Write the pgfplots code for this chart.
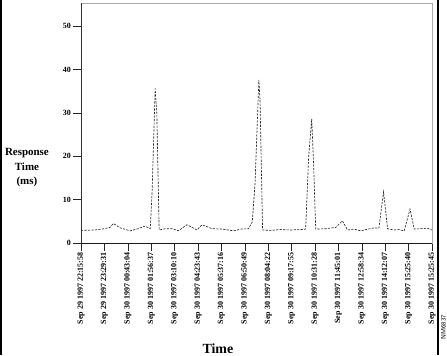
\documentclass[border=0pt]{standalone}
\usepackage{fontspec}
\setmainfont{Liberation Serif}
\usepackage{pgfplots}
\pgfplotsset{compat=1.18}
\usepackage{pgfplotstable}
\pgfplotstableread{
x v
0.00 2.9
0.60 3.0
0.99 3.3
1.24 3.6
1.38 4.5
1.67 3.5
2.10 2.8
2.44 3.3
2.74 3.9
2.96 3.3
3.04 12.0
3.17 35.6
3.24 30.0
3.34 3.0
3.60 3.3
3.90 3.3
4.16 2.8
4.53 4.2
4.96 3.0
5.17 4.2
5.60 3.3
6.04 3.2
6.53 2.8
6.82 3.2
7.16 3.3
7.32 4.9
7.44 14.0
7.60 37.6
7.65 33.0
7.76 3.0
8.10 2.9
8.53 3.1
8.96 3.0
9.39 3.1
9.60 3.2
9.73 20.0
9.86 28.6
9.94 18.0
10.03 3.2
10.46 3.3
10.89 3.6
11.17 5.1
11.39 3.0
11.66 3.2
11.96 2.8
12.26 3.2
12.53 3.5
12.73 3.4
12.93 11.8
13.10 3.3
13.37 3.0
13.59 3.1
13.81 2.8
14.06 7.8
14.24 3.2
14.53 3.3
14.79 3.4
15.00 3.0
}\resp
\begin{document}
\begin{tikzpicture}[x=1bp,y=1bp]
\useasboundingbox (0,0) rectangle (447,355);
\fill[white] (0,0) rectangle (447,355);
\draw[black, line width=1.6bp] (1.2,0) -- (1.2,355);
\draw[black, line width=1.6bp] (437.8,0) -- (437.8,355);
\node[rotate=90, font=\sffamily\fontsize{6.5}{6.5}\selectfont, inner sep=0] at (443.5,28) {NM6837};
\begin{axis}[
  at={(81bp,112bp)}, anchor=south west,
  scale only axis, width=351bp, height=240bp,
  xmin=0, xmax=15, ymin=0, ymax=55.3,
  xtick={0,...,15},
  xticklabels={Sep 29 1997 22:15:58, Sep 29 1997 23:29:31, Sep 30 1997 00:43:04, Sep 30 1997 01:56:37, Sep 30 1997 03:10:10, Sep 30 1997 04:23:43, Sep 30 1997 05:37:16, Sep 30 1997 06:50:49, Sep 30 1997 08:04:22, Sep 30 1997 09:17:55, Sep 30 1997 10:31:28, Sep 30 1997 11:45:01, Sep 30 1997 12:58:34, Sep 30 1997 14:12:07, Sep 30 1997 15:25:40, Sep 30 1997 15:25:45},
  ytick={0,10,20,30,40,50},
  yticklabels={0,10,20,30,40,50},
  tick pos=left, tick align=outside,
  major tick length=8bp,
  tick style={black!85, line width=0.6bp},
  axis line style={gray!65, line width=0.8bp},
  tick label style={font=\bfseries\fontsize{8}{9}\selectfont},
  x tick label style={rotate=90, anchor=east, inner sep=1.5bp},
  y tick label style={inner sep=2bp},
  xlabel={Time},
  ylabel={Response\\Time\\(ms)},
  every axis x label/.style={at={(rel axis cs:0.39,-0.44)}, anchor=center, font=\bfseries\fontsize{14}{16}\selectfont},
  every axis y label/.style={at={(rel axis cs:-0.154,0.3125)}, anchor=center, align=center, font=\bfseries\fontsize{11}{14.5}\selectfont},
  clip=false,
]
\addplot[black!85, line width=0.65bp, dash pattern=on 2.2bp off 1.3bp] table[x=x,y=v] {\resp};
\draw[black!90, line width=0.9bp] (rel axis cs:0,0) -- (rel axis cs:1,0);
\draw[gray!40!black, line width=0.9bp] (rel axis cs:0,0) -- (rel axis cs:0,1);
\end{axis}
\end{tikzpicture}
\end{document}
